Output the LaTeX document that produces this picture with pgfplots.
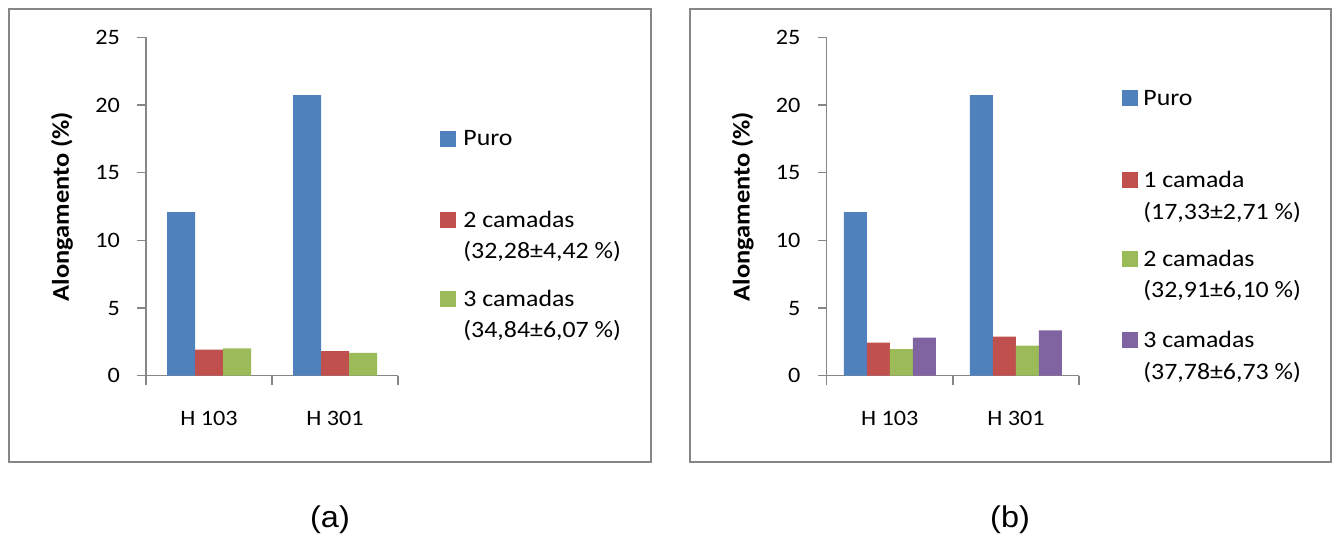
\documentclass[border=0pt]{standalone}
\usepackage{pgfplots}
\pgfplotsset{compat=1.18}
\usepackage{fontspec}
\setmainfont[FakeStretch=1.1]{Carlito}
\newfontfamily\arialf[FakeStretch=1.08]{Liberation Sans}
\definecolor{cblue}{HTML}{4F81BD}
\definecolor{cred}{HTML}{C0504D}
\definecolor{cgreen}{HTML}{9BBB59}
\definecolor{cpurple}{HTML}{8064A2}
\definecolor{axgray}{HTML}{868686}
\newcommand\fs{\fontsize{22}{26}\selectfont}
\newcommand\fleg{\fontsize{23.5}{28}\selectfont}
\newcommand\fl{\fontsize{24}{28}\selectfont}
\pgfplotsset{
  sqa/.style={legend image code/.code={\fill[#1] (0pt,0pt) rectangle (14.5pt,14.5pt); \path (23pt,0pt);}},
  sqb/.style={legend image code/.code={\fill[#1] (0pt,0pt) rectangle (15pt,15pt); \path (21pt,0pt);}},
  common/.style={
    anchor=south west,
    scale only axis, height=338.4pt,
    ybar=0pt,
    xmin=-0.5, xmax=1.5, ymin=0, ymax=25,
    ytick={0,5,...,25},
    xtick={-0.5,0.5,1.5}, xticklabels={},
    extra x ticks={0,1}, extra x tick labels={H 103,H 301},
    extra x tick style={major tick length=0pt},
    axis x line*=bottom, axis y line*=left,
    axis line style={draw=axgray, line width=1.5pt},
    tick style={draw=axgray, line width=1.5pt},
    tick align=outside, major tick length=9pt,
    /pgf/number format/assume math mode=true,
    tick label style={font=\fs, inner sep=0pt},
    yticklabel style={anchor=east, xshift=-17pt},
    xticklabel style={anchor=north, yshift=-35pt},
    ylabel={Alongamento (\%)},
    every axis y label/.style={at={(axis description cs:-0.333,0.5)}, rotate=90, anchor=center, font=\bfseries\fl},
    legend style={anchor=north west, draw=none, fill=none, inner sep=0pt, outer sep=0pt,
      row sep=0pt, column sep=0pt, nodes={inner sep=0pt, outer sep=0pt}, cells={anchor=base west}, font=\fleg},
  }
}
\begin{document}
\begin{tikzpicture}
\useasboundingbox (0pt,0pt) rectangle (1338pt,535pt);
\draw[draw=axgray, line width=2pt] (9pt,526pt) rectangle (651pt,73pt);
\draw[draw=axgray, line width=2pt] (689.5pt,526pt) rectangle (1331pt,73pt);
\node[font=\arialf\fontsize{30}{34}\selectfont] at (330pt,15pt) {(a)};
\node[font=\arialf\fontsize{30}{34}\selectfont] at (1010pt,15pt) {(b)};

\begin{axis}[common, at={(146pt,159.3pt)}, width=252pt, bar width=28pt,
  legend style={at={(axis description cs:1.1667,0.7414)}}]
\addplot[fill=cblue, draw=none, bar shift=-28pt, forget plot] coordinates {(0,12.09) (1,20.73)};
\addplot[fill=cred, draw=none, bar shift=0pt, forget plot] coordinates {(0,1.92) (1,1.82)};
\addplot[fill=cgreen, draw=none, bar shift=28pt, forget plot] coordinates {(0,2.02) (1,1.68)};
\addlegendimage{sqa=cblue}
\addlegendentry[text height=21pt, text depth=60.3pt]{Puro}
\addlegendimage{sqa=cred}
\addlegendentry[text height=21pt, text depth=10pt]{2 camadas}
\addlegendimage{empty legend}
\addlegendentry[text height=21pt, text depth=27pt]{(32,28±4,42 \%)}
\addlegendimage{sqa=cgreen}
\addlegendentry[text height=21pt, text depth=10pt]{3 camadas}
\addlegendimage{empty legend}
\addlegendentry[text height=21pt, text depth=10pt]{(34,84±6,07 \%)}
\end{axis}

\begin{axis}[common, at={(826.7pt,159.3pt)}, width=252.3pt, bar width=23pt,
  legend style={at={(axis description cs:1.1704,0.8617)}}]
\addplot[fill=cblue, draw=none, bar shift=-34.5pt, forget plot] coordinates {(0,12.09) (1,20.73)};
\addplot[fill=cred, draw=none, bar shift=-11.5pt, forget plot] coordinates {(0,2.44) (1,2.88)};
\addplot[fill=cgreen, draw=none, bar shift=11.5pt, forget plot] coordinates {(0,1.97) (1,2.22)};
\addplot[fill=cpurple, draw=none, bar shift=34.5pt, forget plot] coordinates {(0,2.81) (1,3.35)};
\addlegendimage{sqb=cblue}
\addlegendentry[text height=21pt, text depth=61pt]{Puro}
\addlegendimage{sqb=cred}
\addlegendentry[text height=21pt, text depth=11pt]{1 camada}
\addlegendimage{empty legend}
\addlegendentry[text height=21pt, text depth=26pt]{(17,33±2,71 \%)}
\addlegendimage{sqb=cgreen}
\addlegendentry[text height=21pt, text depth=10pt]{2 camadas}
\addlegendimage{empty legend}
\addlegendentry[text height=21pt, text depth=29pt]{(32,91±6,10 \%)}
\addlegendimage{sqb=cpurple}
\addlegendentry[text height=21pt, text depth=11pt]{3 camadas}
\addlegendimage{empty legend}
\addlegendentry[text height=21pt, text depth=10pt]{(37,78±6,73 \%)}
\end{axis}
\end{tikzpicture}
\end{document}
